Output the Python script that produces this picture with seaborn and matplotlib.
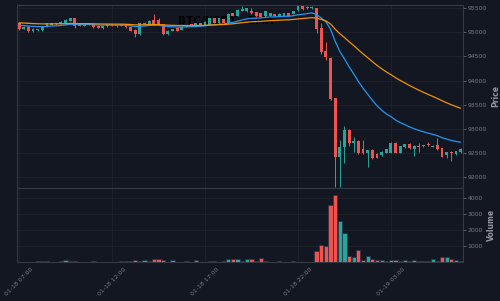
import numpy as np
import pandas as pd
import matplotlib
matplotlib.use('Agg')
import matplotlib.pyplot as plt
import seaborn as sns

# BTC/USDT 15m candles, 01-18 07:00 -> 01-19 06:45
opens = [95200, 95070, 95110, 95030, 95040, 95045, 95105, 95160, 95190, 95170,
         95190, 95240, 95290, 95165, 95130, 95150, 95172, 95130, 95085, 95120,
         95165, 95120, 95130, 95165, 95115, 95050, 94960, 95165, 95165, 95245,
         95245, 95170, 94960, 95030, 95085, 95050, 95110, 95170, 95140, 95185,
         95160, 95160, 95290, 95190, 95275, 95200, 95395, 95340, 95450, 95430,
         95430, 95410, 95395, 95330, 95345, 95375, 95340, 95340, 95395, 95380,
         95460, 95545, 95500, 95500, 95498, 95083, 94620, 94476, 93635, 92426,
         92634, 92979, 92717, 92751, 92590, 92500, 92570, 92490, 92460, 92510,
         92510, 92715, 92510, 92620, 92690, 92590, 92650, 92640, 92680, 92630,
         92660, 92600, 92470, 92530, 92480, 92520]
closes = [95070, 95110, 95030, 95060, 95065, 95115, 95185, 95190, 95170, 95220,
          95255, 95290, 95130, 95130, 95170, 95172, 95105, 95095, 95130, 95165,
          95130, 95150, 95165, 95105, 95030, 94960, 95185, 95200, 95240, 95170,
          95170, 94960, 95030, 95065, 95035, 95115, 95150, 95135, 95190, 95160,
          95220, 95290, 95200, 95290, 95200, 95380, 95340, 95465, 95490, 95500,
          95395, 95330, 95325, 95430, 95395, 95340, 95380, 95395, 95340, 95440,
          95545, 95475, 95530, 95530, 95062, 94600, 94484, 93620, 92426, 92634,
          92979, 92703, 92751, 92510, 92500, 92560, 92395, 92400, 92530, 92580,
          92720, 92510, 92640, 92680, 92600, 92650, 92635, 92665, 92660, 92650,
          92590, 92430, 92520, 92500, 92535, 92590]
highs = [95215, 95125, 95120, 95090, 95075, 95125, 95195, 95200, 95200, 95230,
         95265, 95300, 95300, 95175, 95180, 95180, 95185, 95140, 95140, 95175,
         95175, 95160, 95175, 95175, 95125, 95060, 95195, 95210, 95250, 95380,
         95290, 95180, 95040, 95075, 95095, 95125, 95160, 95180, 95200, 95195,
         95230, 95300, 95300, 95300, 95285, 95390, 95405, 95475, 95545, 95510,
         95500, 95420, 95405, 95440, 95405, 95385, 95390, 95405, 95405, 95450,
         95555, 95550, 95540, 95550, 95510, 95187, 94807, 94490, 93650, 92772,
         93062, 93000, 92840, 92770, 92772, 92575, 92585, 92500, 92545, 92590,
         92730, 92725, 92650, 92690, 92700, 92660, 92700, 92675, 92730, 92660,
         92810, 92610, 92530, 92540, 92545, 92600]
lows = [95049, 95060, 95015, 95000, 95020, 95030, 95100, 95145, 95160, 95165,
        95180, 95230, 95097, 95125, 95125, 95145, 95097, 95085, 95075, 95110,
        95125, 95110, 95125, 95097, 95020, 94897, 94950, 95160, 95160, 95160,
        95160, 94950, 94950, 95020, 95025, 95040, 95100, 95125, 95130, 95150,
        95150, 95150, 95190, 95180, 95190, 95190, 95330, 95330, 95440, 95420,
        95385, 95320, 95315, 95320, 95335, 95330, 95330, 95330, 95330, 95370,
        95450, 95465, 95490, 95490, 94980, 94552, 94428, 93600, 91805, 91806,
        92289, 92650, 92530, 92480, 92480, 92206, 92385, 92390, 92450, 92500,
        92500, 92500, 92500, 92610, 92590, 92440, 92530, 92630, 92650, 92620,
        92570, 92420, 92390, 92340, 92470, 92510]
volumes = [30, 20, 25, 15, 50, 60, 40, 30, 25, 40,
           140, 50, 45, 20, 15, 10, 60, 20, 15, 10,
           15, 20, 40, 40, 45, 140, 80, 110, 60, 190,
           160, 150, 30, 100, 20, 15, 60, 15, 100, 10,
           20, 40, 35, 30, 60, 190, 190, 200, 60, 170,
           210, 60, 230, 40, 20, 15, 50, 20, 10, 60,
           30, 20, 15, 25, 660, 1080, 975, 3580, 4200, 2580,
           1810, 390, 290, 725, 140, 350, 185, 140, 130, 80,
           120, 110, 60, 120, 90, 110, 40, 50, 40, 200,
           60, 290, 340, 200, 140, 60]

# EMA starting levels at the left edge of the chart
ema20_start = 95150
ema50_start = 95200

tick_pos = [0, 20, 40, 60, 80]
tick_labels = ['01-18 07:00', '01-18 12:00', '01-18 17:00', '01-18 22:00', '01-19 03:00']
price_ticks = [92000, 92500, 93000, 93500, 94000, 94500, 95000, 95500]
vol_ticks = [1000, 2000, 3000, 4000]

df = pd.DataFrame({'open': opens, 'high': highs, 'low': lows,
                   'close': closes, 'volume': volumes})
df['i'] = np.arange(len(df))
df['ema20'] = pd.Series([ema20_start] + closes).ewm(span=20, adjust=False).mean().iloc[1:].values
df['ema50'] = pd.Series([ema50_start] + closes).ewm(span=50, adjust=False).mean().iloc[1:].values

up_col = '#26a69a'
down_col = '#ef5350'
bg = '#131722'
grid_col = '#1e222d'
spine_col = '#363a45'
text_col = '#787b86'

sns.set_style('dark', {'axes.facecolor': bg, 'figure.facecolor': bg,
                       'grid.color': grid_col, 'axes.edgecolor': spine_col})

fig = plt.figure(figsize=(5, 3.01), dpi=100)
ax = fig.add_axes([0.034, 0.3755, 0.891, 0.608])
axv = fig.add_axes([0.034, 0.1296, 0.891, 0.2459], sharex=ax)

colors = np.where(df['close'] >= df['open'], up_col, down_col)

# wicks + bodies
ax.vlines(df['i'], df['low'], df['high'], colors=colors, linewidth=0.7, zorder=2)
body = (df['close'] - df['open']).abs().clip(lower=8)
ax.bar(df['i'], body, bottom=df[['open', 'close']].min(axis=1), width=0.62,
       color=colors, linewidth=0, zorder=3)

sns.lineplot(data=df, x='i', y='ema20', color='#2196f3', linewidth=0.9, ax=ax, zorder=4)
sns.lineplot(data=df, x='i', y='ema50', color='#f0900a', linewidth=0.9, ax=ax, zorder=4)

ax.text(0.362, 0.91, 'BTC/USDT - EMA', transform=ax.transAxes, color='black',
        fontsize=7.5, fontweight='bold', va='center', zorder=1)

# volume
axv.bar(df['i'], df['volume'], width=0.9, color=colors, edgecolor='#2a2e45',
        linewidth=0.5, zorder=3)

ax.set_xlim(-0.45, 95.4)
ax.set_ylim(91780, 95565)
axv.set_ylim(0, 4640)

for a in (ax, axv):
    a.grid(True, color=grid_col, linewidth=0.6)
    a.yaxis.tick_right()
    a.yaxis.set_label_position('right')
    a.tick_params(axis='both', colors=text_col, labelsize=4.4, length=2, width=0.5,
                  pad=1.5)
    for s in a.spines.values():
        s.set_color(spine_col)
        s.set_linewidth(0.8)
    a.set_xlabel('')

ax.set_yticks(price_ticks)
ax.set_yticklabels([str(p) for p in price_ticks])
ax.set_ylabel('Price', color='#9598a1', fontsize=5.5, fontweight='bold', labelpad=3)
ax.tick_params(axis='x', labelbottom=False, length=0)

axv.set_yticks(vol_ticks)
axv.set_yticklabels([str(v) for v in vol_ticks])
axv.set_ylabel('Volume', color='#9598a1', fontsize=5.5, fontweight='bold', labelpad=3)
axv.set_xticks(tick_pos)
axv.set_xticklabels(tick_labels, rotation=45, ha='center')

fig.savefig('out.png', dpi=100, facecolor=bg)
